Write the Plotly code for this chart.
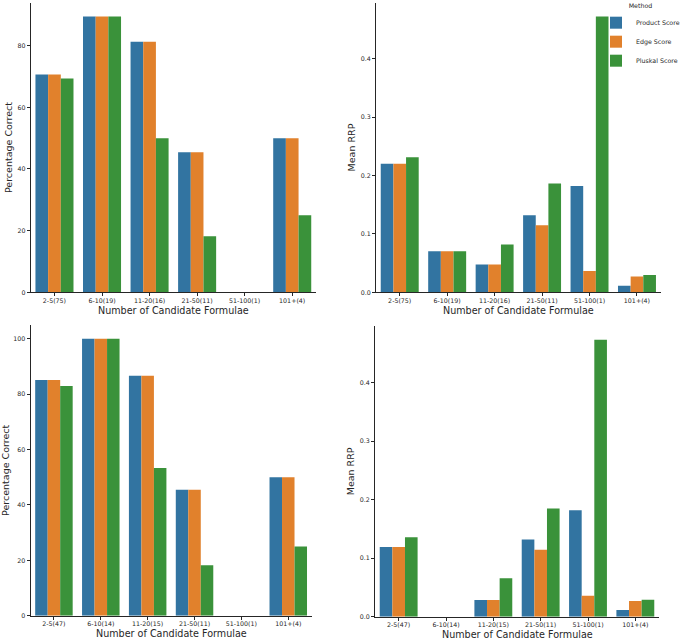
import plotly.graph_objects as go

methods = ["Product Score", "Edge Score", "Pluskal Score"]
colors = ["#3274a1", "#e1812c", "#3a923a"]

cats_top = ["2-5(75)", "6-10(19)", "11-20(16)", "21-50(11)", "51-100(1)", "101+(4)"]
cats_bottom = ["2-5(47)", "6-10(14)", "11-20(15)", "21-50(11)", "51-100(1)", "101+(4)"]
x_title = "Number of Candidate Formulae"

# Top-left: Percentage correct
pct_top_product = [70.67, 89.47, 81.25, 45.45, 0.0, 50.0]
pct_top_edge = [70.67, 89.47, 81.25, 45.45, 0.0, 50.0]
pct_top_pluskal = [69.33, 89.47, 50.0, 18.18, 0.0, 25.0]

# Top-right: Mean RRP
rrp_top_product = [0.220, 0.0703, 0.0477, 0.132, 0.182, 0.0113]
rrp_top_edge = [0.220, 0.0703, 0.0477, 0.1146, 0.0363, 0.0272]
rrp_top_pluskal = [0.231, 0.0703, 0.0817, 0.186, 0.472, 0.0294]

# Bottom-left: Percentage correct
pct_bot_product = [85.11, 100.0, 86.67, 45.45, 0.0, 50.0]
pct_bot_edge = [85.11, 100.0, 86.67, 45.45, 0.0, 50.0]
pct_bot_pluskal = [82.98, 100.0, 53.33, 18.18, 0.0, 25.0]

# Bottom-right: Mean RRP
rrp_bot_product = [0.119, 0.0, 0.0285, 0.132, 0.182, 0.0113]
rrp_bot_edge = [0.119, 0.0, 0.0285, 0.1145, 0.036, 0.027]
rrp_bot_pluskal = [0.1357, 0.0, 0.0656, 0.185, 0.473, 0.029]

W, H = 685, 639
FONT = "DejaVu Sans"
TXT = "#262626"

panels = [
    (cats_top, [pct_top_product, pct_top_edge, pct_top_pluskal], "x", "y", "Percentage Correct", 20, "d", False),
    (cats_top, [rrp_top_product, rrp_top_edge, rrp_top_pluskal], "x2", "y2", "Mean RRP", 0.1, ".1f", True),
    (cats_bottom, [pct_bot_product, pct_bot_edge, pct_bot_pluskal], "x3", "y3", "Percentage Correct", 20, "d", False),
    (cats_bottom, [rrp_bot_product, rrp_bot_edge, rrp_bot_pluskal], "x4", "y4", "Mean RRP", 0.1, ".1f", False),
]

# pixel boxes: (left, right, top, bottom)
boxes = [
    (30.7, 316.0, 2.7, 292.3),
    (376.0, 660.7, 2.7, 292.3),
    (30.5, 311.7, 325.0, 615.7),
    (375.0, 659.0, 326.0, 616.7),
]

fig = go.Figure()
layout = {}
annotations = []
for i, (cats, series, xa, ya, ylab, dt, fmt, sl) in enumerate(panels):
    for m, c, vals in zip(methods, colors, series):
        fig.add_trace(go.Bar(
            x=cats, y=vals, name=m, marker_color=c, marker_line_width=0,
            xaxis=xa, yaxis=ya, showlegend=sl, legendgroup=m,
        ))
    l, r, t, b = boxes[i]
    ymax = max(max(s) for s in series) * 1.05
    xk = "xaxis" if i == 0 else f"xaxis{i+1}"
    yk = "yaxis" if i == 0 else f"yaxis{i+1}"
    top_row = i < 2
    layout[xk] = dict(
        domain=[l / W, r / W], anchor=ya, range=[-0.5, 5.5],
        showline=True, linecolor=TXT, linewidth=1, ticks="outside", ticklen=3,
        tickwidth=0.8, tickcolor=TXT, showgrid=False, zeroline=False,
        ticklabelstandoff=-1,
        tickfont=dict(size=6.3, color=TXT, family=FONT),
        title=dict(text=x_title if top_row else "",
                   font=dict(size=9.6, color=TXT, family=FONT), standoff=4),
        automargin=False,
    )
    if not top_row:
        # lower row: title placed just under the tick labels, as in the reference
        annotations.append(dict(
            text=x_title, xref="paper", yref="paper",
            x=(l + r) / 2 / W, y=1 - (b + 17.6) / H,
            xanchor="center", yanchor="middle", showarrow=False,
            font=dict(size=9.6, color=TXT, family=FONT),
        ))
    layout[yk] = dict(
        domain=[1 - b / H, 1 - t / H], anchor=xa, range=[0, ymax],
        showline=True, linecolor=TXT, linewidth=1, ticks="outside", ticklen=3,
        tickwidth=0.8, tickcolor=TXT, showgrid=False, zeroline=False,
        dtick=dt, tick0=0, tickformat=fmt,
        tickfont=dict(size=6.3, color=TXT, family=FONT),
        title=dict(text=ylab, font=dict(size=9.5, color=TXT, family=FONT), standoff=3),
        automargin=False,
    )

fig.update_layout(
    width=W, height=H,
    margin=dict(l=0, r=0, t=0, b=0),
    paper_bgcolor="white", plot_bgcolor="white",
    barmode="group", bargap=0.2, bargroupgap=0,
    font=dict(family=FONT, color=TXT),
    legend=dict(
        x=1.0, y=1.0, xanchor="right", yanchor="top",
        title=dict(text="Method", side="top center", font=dict(size=6.3, color=TXT, family=FONT)),
        font=dict(size=6.3, color=TXT, family=FONT),
        bgcolor="rgba(0,0,0,0)", itemwidth=30, tracegroupgap=0,
    ),
    annotations=annotations,
    **layout,
)

fig.write_html("out.html", config={"displayModeBar": False},
               post_script="document.body.style.margin='0px';")
